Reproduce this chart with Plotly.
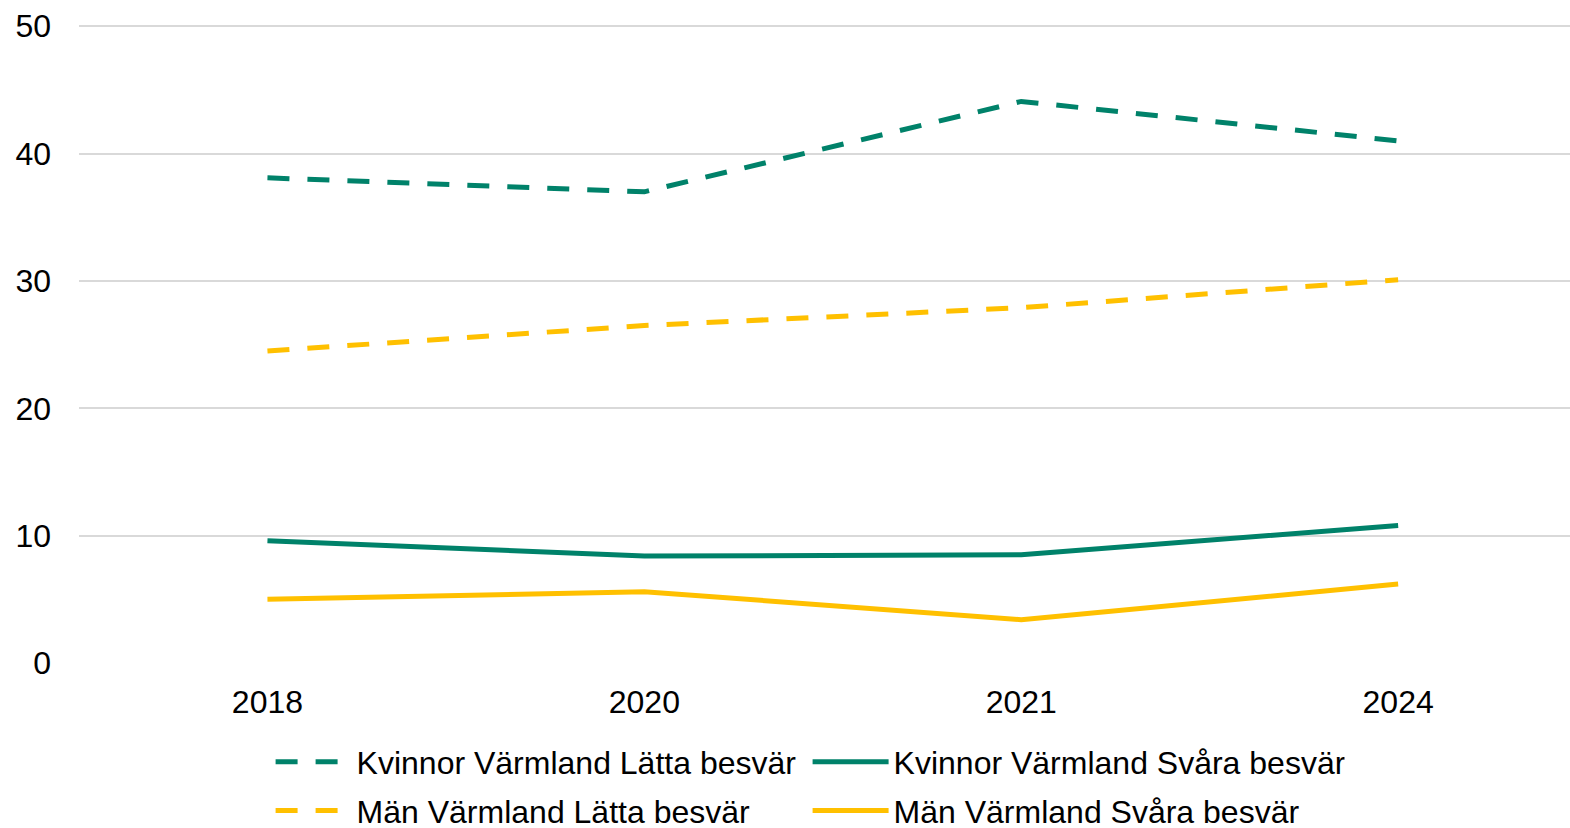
import plotly.graph_objects as go

years = ["2018", "2020", "2021", "2024"]
kvinnor_latta = [38.1, 37.0, 44.1, 41.0]
kvinnor_svara = [9.6, 8.4, 8.5, 10.8]
man_latta = [24.5, 26.5, 27.9, 30.1]
man_svara = [5.0, 5.6, 3.4, 6.2]
y_ticks = [0, 10, 20, 30, 40, 50]

GREEN = "#00826A"
YELLOW = "#FFC000"
FONT = "Liberation Sans, Arial, sans-serif"

fig = go.Figure()
fig.add_trace(go.Scatter(x=years, y=kvinnor_latta, mode="lines", name="Kvinnor Värmland Lätta besvär",
                         line=dict(color=GREEN, width=5, dash="22px,18px"), legend="legend"))
fig.add_trace(go.Scatter(x=years, y=kvinnor_svara, mode="lines", name="Kvinnor Värmland Svåra besvär",
                         line=dict(color=GREEN, width=5), legend="legend"))
fig.add_trace(go.Scatter(x=years, y=man_latta, mode="lines", name="Män Värmland Lätta besvär",
                         line=dict(color=YELLOW, width=5, dash="22px,18px"), legend="legend2"))
fig.add_trace(go.Scatter(x=years, y=man_svara, mode="lines", name="Män Värmland Svåra besvär",
                         line=dict(color=YELLOW, width=5), legend="legend2"))

legend_common = dict(orientation="h", xanchor="left", yanchor="middle", x=0.1285,
                     font=dict(family=FONT, size=32, color="#000000"),
                     itemwidth=76, entrywidth=446, entrywidthmode="pixels",
                     bgcolor="rgba(0,0,0,0)", itemclick=False, itemdoubleclick=False)

fig.update_layout(
    width=1570, height=828,
    margin=dict(l=79, r=0, t=25, b=165, autoexpand=False),
    paper_bgcolor="white", plot_bgcolor="white",
    font=dict(family=FONT, size=32, color="#000000"),
    showlegend=True,
    legend=dict(legend_common, y=-0.155),
    legend2=dict(legend_common, y=-0.2315),
    xaxis=dict(type="category", range=[-0.5, 3.456], showgrid=False, showline=False,
               zeroline=False, ticks="", tickfont=dict(family=FONT, size=32, color="#000000"),
               ticklabelstandoff=17),
    yaxis=dict(range=[0, 50.1], tickvals=y_ticks, showgrid=True, gridcolor="#D9D9D9", gridwidth=2,
               zeroline=False, showline=False, ticks="",
               tickfont=dict(family=FONT, size=32, color="#000000"), ticklabelstandoff=27),
)

fig.write_html("out.html", config={"displayModeBar": False},
               post_script="document.body.style.margin='0';document.body.style.overflow='hidden';")
